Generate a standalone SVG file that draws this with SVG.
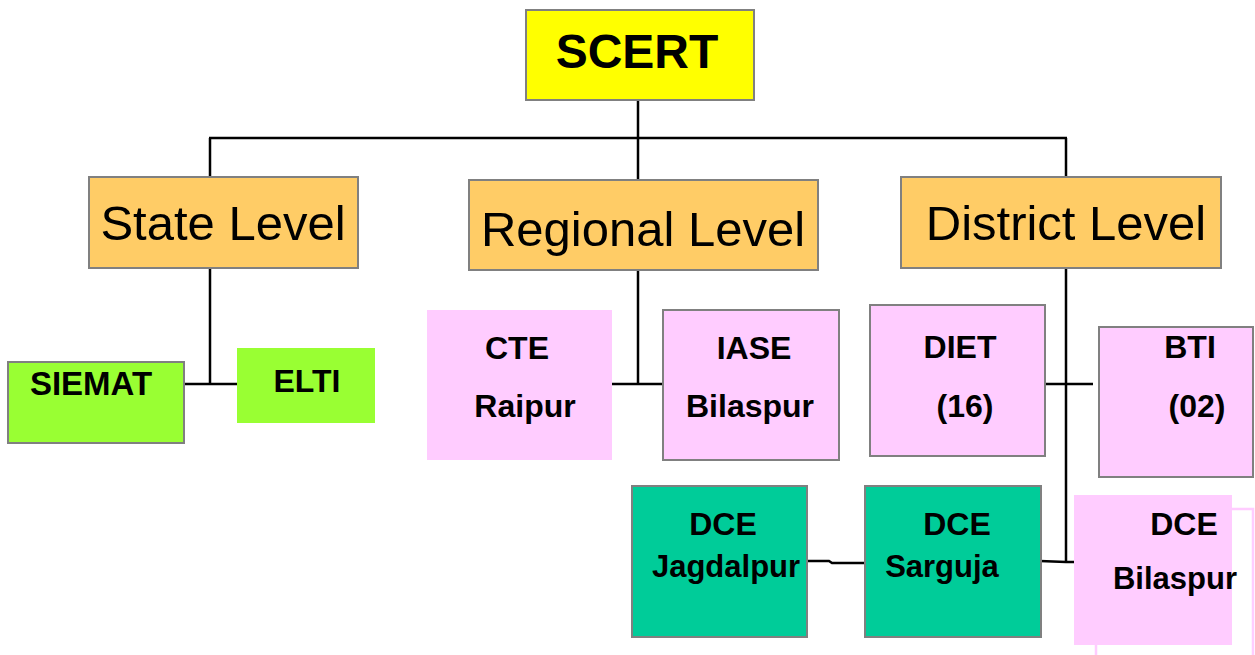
<svg xmlns="http://www.w3.org/2000/svg" width="1255" height="655" viewBox="0 0 1255 655">
<style>
.box{stroke:#808080;stroke-width:2}
.yel{fill:#FFFF00}
.org{fill:#FFCC66}
.grn{fill:#99FF33}
.pnk{fill:#FFCCFF}
.tea{fill:#00CC99}
.t{font-family:"Liberation Sans",Arial,sans-serif;fill:#000;text-anchor:middle}
.b{font-weight:bold}
.lv{font-size:49px}
.lb{font-size:32px;font-weight:bold}
.ls{font-size:31px;font-weight:bold}
.ln{fill:none;stroke:#000;stroke-width:2.5}
</style>
<rect width="1255" height="655" fill="#fff"/>
<g id="connectors">
<line class="ln" x1="638" y1="100" x2="638" y2="180"/>
<line class="ln" x1="209" y1="138" x2="1067" y2="138" stroke-width="3.5"/>
<line class="ln" x1="210" y1="138" x2="210" y2="177"/>
<line class="ln" x1="1066" y1="138" x2="1066" y2="177"/>
<line class="ln" x1="210" y1="268" x2="210" y2="384"/>
<line class="ln" x1="184" y1="384" x2="237" y2="384"/>
<line class="ln" x1="638" y1="270" x2="638" y2="384"/>
<line class="ln" x1="612" y1="384" x2="663" y2="384"/>
<line class="ln" x1="1066" y1="268" x2="1066" y2="562"/>
<line class="ln" x1="1040" y1="384" x2="1093" y2="384"/>
<polyline class="ln" points="806,561 829,561 832,563 864,563"/>
<polyline class="ln" points="1040,561 1066,562 1074,562"/>
</g>
<g id="scert"><rect class="box yel" x="526" y="10" width="228" height="90"/><text class="t b" x="637" y="68" font-size="48">SCERT</text></g>
<g id="state"><rect class="box org" x="89" y="177" width="269" height="91"/><text class="t lv" x="223" y="240">State Level</text></g>
<g id="regional"><rect class="box org" x="469" y="180" width="349" height="90"/><text class="t lv" x="643" y="246">Regional Level</text></g>
<g id="district"><rect class="box org" x="901" y="177" width="320" height="91"/><text class="t lv" x="1066" y="240">District Level</text></g>
<g id="siemat"><rect class="box grn" x="8" y="362" width="176" height="81"/><text class="t b" x="91" y="395" font-size="33">SIEMAT</text></g>
<g id="elti"><rect class="grn" x="237" y="348" width="138" height="75"/><text class="t b" x="307" y="392" font-size="32">ELTI</text></g>
<g id="cte"><rect class="pnk" x="427" y="310" width="185" height="150"/><text class="t lb" x="517" y="359">CTE</text><text class="t lb" x="525" y="417">Raipur</text></g>
<g id="iase"><rect class="box pnk" x="663" y="310" width="176" height="150"/><text class="t lb" x="754" y="359">IASE</text><text class="t lb" x="750" y="417">Bilaspur</text></g>
<g id="diet"><rect class="box pnk" x="870" y="305" width="175" height="151"/><text class="t lb" x="960" y="358">DIET</text><text class="t lb" x="965" y="417">(16)</text></g>
<g id="bti"><rect class="box pnk" x="1099" y="327" width="154" height="150"/><text class="t lb" x="1190" y="358">BTI</text><text class="t lb" x="1197" y="417">(02)</text></g>
<g id="dce-jagdalpur"><rect class="box tea" x="632" y="486" width="175" height="151"/><text class="t lb" x="723" y="535">DCE</text><text class="t ls" x="726" y="577">Jagdalpur</text></g>
<g id="dce-sarguja"><rect class="box tea" x="865" y="486" width="176" height="151"/><text class="t lb" x="957" y="535">DCE</text><text class="t ls" x="942" y="577">Sarguja</text></g>
<g id="dce-bilaspur">
<path d="M1096,656 V645 M1232,509 H1253 V656" fill="none" stroke="#FFCCFF" stroke-width="2.5"/>
<rect class="pnk" x="1074" y="495" width="158" height="150"/>
<text class="t lb" x="1184" y="535">DCE</text><text class="t ls" x="1175" y="589">Bilaspur</text></g>
</svg>
